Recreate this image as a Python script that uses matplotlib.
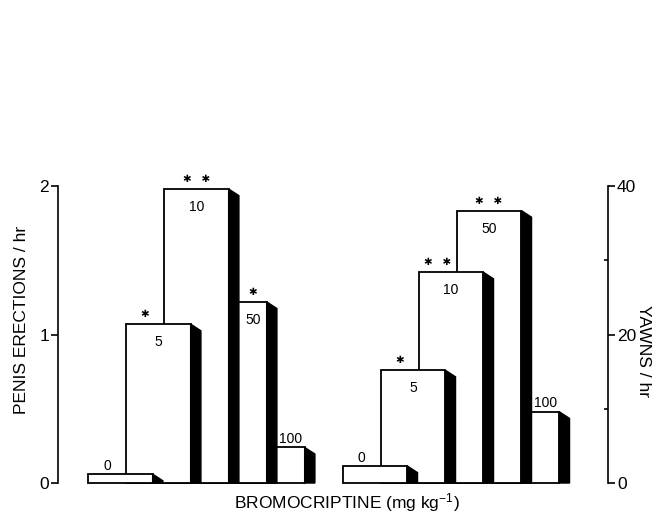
"""Bromocriptine dose-response: penile erections and yawns, drawn as shaded step bars."""

import matplotlib.pyplot as plt
from matplotlib.patches import Polygon, Rectangle

plt.rcParams["font.family"] = ["Liberation Sans", "DejaVu Sans"]
plt.rcParams["mathtext.fontset"] = "custom"
plt.rcParams["mathtext.rm"] = "Liberation Sans"
plt.rcParams["mathtext.it"] = "Liberation Sans:italic"

doses = ["0", "5", "10", "50", "100"]
erections = [0.06, 1.07, 1.98, 1.22, 0.24]          # per hr, left axis
yawns = [2.3, 15.2, 28.4, 36.7, 9.6]                # per hr, right axis
erection_marks = ["", "*", "**", "*", ""]
yawn_marks = ["", "*", "**", "**", ""]

STEP = 1.0      # offset between successive bars
WIDTH = 1.7     # front face width
SHADE = 0.27    # width of the black side
DROP = 0.045    # slant of the side's top edge
LEFT_START = 0.0
RIGHT_START = 6.7
YAWN_SCALE = 20.0


def star_text(mark):
    return "   ".join("\u2731" for _ in mark)


def draw_group(ax, start, heights, marks):
    n = len(heights)
    lefts = [start + i * STEP for i in range(n)]
    rights = [x + WIDTH for x in lefts]

    # back bars first, so the lower doses sit in front
    for i in reversed(range(n)):
        h = heights[i]
        z = 2 + 2 * (n - i)
        ax.add_patch(Rectangle((lefts[i], 0), WIDTH, h, facecolor="white",
                               edgecolor="black", lw=1.3, zorder=z, clip_on=False))
        side = [(rights[i], 0), (rights[i], h),
                (rights[i] + SHADE, max(h - DROP, 0)), (rights[i] + SHADE, 0)]
        ax.add_patch(Polygon(side, closed=True, facecolor="black", edgecolor="black",
                             lw=1.0, zorder=z + 1, clip_on=False))

    for i in range(n):
        h = heights[i]
        lo = lefts[i]
        if i > 0 and heights[i - 1] > h:
            lo = rights[i - 1] + SHADE
        hi_top = rights[i]
        if i < n - 1 and heights[i + 1] > h:
            hi_top = lefts[i + 1]
        top_x = (lo + hi_top) / 2

        if marks[i]:
            ax.annotate(star_text(marks[i]), (top_x, h), xytext=(0, 7),
                        textcoords="offset points", ha="center", va="center",
                        fontsize=7.5, family="DejaVu Sans", zorder=30)
        if h > 0.5:
            ax.annotate(doses[i], ((lo + rights[i]) / 2, h), xytext=(0, -13),
                        textcoords="offset points", ha="center", va="center",
                        fontsize=10, zorder=30)
        else:
            ax.annotate(doses[i], (top_x, h), xytext=(0, 6),
                        textcoords="offset points", ha="center", va="center",
                        fontsize=10, zorder=30)


fig = plt.figure(figsize=(6.57, 5.12), dpi=100)
ax = fig.add_axes([0.0883, 0.0566, 0.837, 0.5801])
ax.set_xlim(-0.79, 13.68)
ax.set_ylim(0, 2)

draw_group(ax, LEFT_START, erections, erection_marks)
draw_group(ax, RIGHT_START, [v / YAWN_SCALE for v in yawns], yawn_marks)

for side in ("top", "bottom", "right"):
    ax.spines[side].set_visible(False)
ax.spines["left"].set_linewidth(1.2)
ax.set_xticks([])
ax.set_yticks([0, 1, 2])
ax.set_yticklabels(["0", "1", "2"])
ax.tick_params(axis="y", direction="out", length=5, width=1.2, pad=1.5, labelsize=12.5)

ax2 = ax.twinx()
ax2.set_ylim(0, 40)
for side in ("top", "bottom", "left"):
    ax2.spines[side].set_visible(False)
ax2.spines["right"].set_linewidth(1.2)
ax2.set_yticks([0, 20, 40])
ax2.set_yticks([10, 30], minor=True)
ax2.tick_params(axis="y", which="major", direction="out", length=5, width=1.2,
                pad=1.5, labelsize=12.5)
ax2.tick_params(axis="y", which="minor", direction="in", length=3, width=1.2)

fig.text(0.032, 0.375, "PENIS ERECTIONS / hr", rotation=90, ha="center",
         va="center", fontsize=12.5)
fig.text(0.979, 0.314, "YAWNS / hr", rotation=-90, ha="center", va="center",
         fontsize=12.5)
fig.text(0.528, 0.008, r"BROMOCRIPTINE (mg kg$^{-1}$)", ha="center",
         va="baseline", fontsize=12.5)

fig.savefig("out.png", dpi=100)
